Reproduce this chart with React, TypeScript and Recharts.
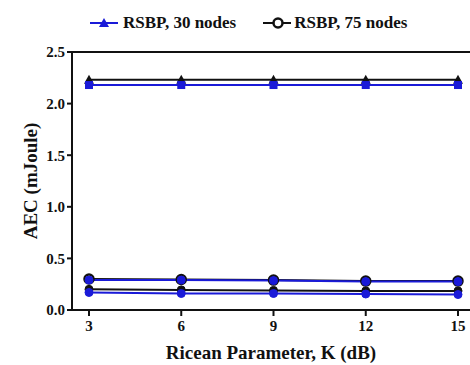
import { LineChart, Line, XAxis, YAxis, ReferenceLine } from "recharts";

const kValues = [3, 6, 9, 12, 15];
const yTicks = [0, 0.5, 1, 1.5, 2, 2.5];

const upperBlack = [2.23, 2.23, 2.23, 2.23, 2.23];
const upperBlue = [2.18, 2.18, 2.18, 2.18, 2.18];
const rsbp75 = [0.3, 0.295, 0.29, 0.28, 0.28];
const rsbp30 = [0.29, 0.29, 0.285, 0.275, 0.275];
const lowerBlack = [0.2, 0.195, 0.19, 0.185, 0.185];
const lowerBlue = [0.17, 0.16, 0.16, 0.155, 0.15];

const legendLabels = ["RSBP, 30 nodes", "RSBP, 75 nodes"];

const BLUE = "#1a1ad8";
const BLACK = "#111111";
const FONT = "Liberation Serif, serif";

const data = kValues.map((k, i) => ({
  k,
  upperBlack: upperBlack[i],
  upperBlue: upperBlue[i],
  rsbp75: rsbp75[i],
  rsbp30: rsbp30[i],
  lowerBlack: lowerBlack[i],
  lowerBlue: lowerBlue[i],
}));

type DotProps = { cx?: number; cy?: number; index?: number };

function triangleDot(color: string) {
  return ({ cx, cy, index }: DotProps) => {
    if (typeof cx !== "number" || typeof cy !== "number") return <g key={index} />;
    return (
      <polygon
        key={index}
        points={`${cx},${cy - 5} ${cx - 5},${cy + 4} ${cx + 5},${cy + 4}`}
        fill={color}
      />
    );
  };
}

function squareDot(color: string) {
  return ({ cx, cy, index }: DotProps) => {
    if (typeof cx !== "number" || typeof cy !== "number") return <g key={index} />;
    return <rect key={index} x={cx - 4} y={cy - 4} width={8} height={8} fill={color} />;
  };
}

function circleDot(color: string, open: boolean) {
  return ({ cx, cy, index }: DotProps) => {
    if (typeof cx !== "number" || typeof cy !== "number") return <g key={index} />;
    return (
      <circle
        key={index}
        cx={cx}
        cy={cy}
        r={open ? 4.5 : 4}
        fill={open ? "#fff" : color}
        stroke={color}
        strokeWidth={open ? 2.5 : 1}
      />
    );
  };
}

function LegendBar() {
  return (
    <div
      style={{
        position: "absolute",
        top: 13,
        left: 88,
        display: "flex",
        alignItems: "center",
        fontFamily: FONT,
        fontWeight: 700,
        fontSize: 17,
        color: "#111",
        whiteSpace: "nowrap",
      }}
    >
      <svg width={32} height={14}>
        <line x1={2} y1={7} x2={30} y2={7} stroke={BLUE} strokeWidth={2} />
        <polygon points="16,2 11,11 21,11" fill={BLUE} />
      </svg>
      <span style={{ marginLeft: 3 }}>{legendLabels[0]}</span>
      <svg width={30} height={14} style={{ marginLeft: 27 }}>
        <line x1={0} y1={7} x2={28} y2={7} stroke={BLACK} strokeWidth={2} />
        <circle cx={15} cy={7} r={4.5} fill="#fff" stroke={BLACK} strokeWidth={2.5} />
      </svg>
      <span style={{ marginLeft: 1 }}>{legendLabels[1]}</span>
    </div>
  );
}

export default function App() {
  const tick = { fill: "#111", fontFamily: FONT, fontWeight: 700, fontSize: 15 };
  return (
    <div style={{ position: "absolute", left: 0, top: 0, width: 470, height: 365, background: "#fff", fontFamily: FONT }}>
      <LegendBar />
      <LineChart width={470} height={365} data={data} margin={{ top: 52, right: 0, bottom: 0, left: 0 }}>
        <XAxis
          dataKey="k"
          type="number"
          domain={[3, 15]}
          ticks={kValues}
          padding={{ left: 17, right: 12 }}
          height={55}
          axisLine={{ stroke: BLACK, strokeWidth: 2 }}
          tickLine={{ stroke: BLACK, strokeWidth: 2 }}
          tickSize={6}
          tickMargin={4}
          tick={tick}
          label={{
            value: "Ricean Parameter, K (dB)",
            position: "insideBottom",
            offset: 6,
            style: { fill: "#111", fontFamily: FONT, fontWeight: 700, fontSize: 19 },
          }}
        />
        <YAxis
          type="number"
          domain={[0, 2.5]}
          ticks={yTicks}
          tickFormatter={(v: number) => v.toFixed(1)}
          width={72}
          axisLine={{ stroke: BLACK, strokeWidth: 2 }}
          tickLine={{ stroke: BLACK, strokeWidth: 2 }}
          tickSize={5}
          tickMargin={2}
          tick={tick}
          label={{
            value: "AEC (mJoule)",
            angle: -90,
            position: "insideLeft",
            offset: 30,
            style: { fill: "#111", fontFamily: FONT, fontWeight: 700, fontSize: 19, textAnchor: "middle" },
          }}
        />
        <ReferenceLine y={2.5} stroke={BLACK} strokeWidth={2} />
        <Line dataKey="upperBlack" stroke={BLACK} strokeWidth={2} dot={triangleDot(BLACK)} isAnimationActive={false} />
        <Line dataKey="upperBlue" stroke={BLUE} strokeWidth={2} dot={squareDot(BLUE)} isAnimationActive={false} />
        <Line dataKey="lowerBlack" stroke={BLACK} strokeWidth={2} dot={circleDot(BLACK, false)} isAnimationActive={false} />
        <Line dataKey="lowerBlue" stroke={BLUE} strokeWidth={2} dot={circleDot(BLUE, false)} isAnimationActive={false} />
        <Line dataKey="rsbp75" stroke={BLACK} strokeWidth={2} dot={circleDot(BLACK, true)} isAnimationActive={false} />
        <Line dataKey="rsbp30" stroke={BLUE} strokeWidth={2} dot={circleDot(BLUE, false)} isAnimationActive={false} />
      </LineChart>
    </div>
  );
}
